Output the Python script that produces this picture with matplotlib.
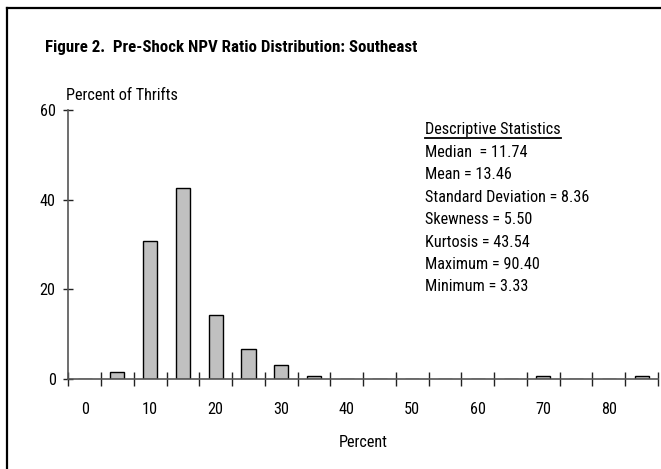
import matplotlib
matplotlib.use("Agg")
import matplotlib.pyplot as plt
from matplotlib.lines import Line2D

plt.rcParams['font.family'] = ['Roboto Condensed', 'DejaVu Sans']

# histogram bins (lower edge of each 5-point bin) and share of thrifts
bins = [0, 5, 10, 15, 20, 25, 30, 35, 40, 45, 50, 55, 60, 65, 70, 75, 80, 85]
pct = [0, 1.5, 30.7, 42.5, 14.3, 6.6, 3.1, 0.7, 0, 0, 0, 0, 0, 0, 0.7, 0, 0, 0.7]
tick_labels = ['0', '10', '20', '30', '40', '50', '60', '70', '80']

stats_lines = ['Median  = 11.74', 'Mean = 13.46', 'Standard Deviation = 8.36',
               'Skewness = 5.50', 'Kurtosis = 43.54', 'Maximum = 90.40', 'Minimum = 3.33']

W, H = 661, 469
FS = 11.7
fig = plt.figure(figsize=(W / 100, H / 100), dpi=100)
ax = fig.add_axes([68.3 / W, 1 - 378.7 / H, (658 - 68.3) / W, (378.7 - 110) / H])

x = list(range(len(bins)))
ax.bar(x, pct, width=0.43, color='#c0c0c0', edgecolor='black', linewidth=1.0)

ax.set_xlim(-0.5, len(bins) - 0.5)
ax.set_ylim(0, 60)

# spines: only left and bottom
for s in ['top', 'right']:
    ax.spines[s].set_visible(False)
ax.spines['left'].set_color('#555555')
ax.spines['bottom'].set_color('#555555')
ax.spines['left'].set_linewidth(1.2)
ax.spines['bottom'].set_linewidth(1.2)

# x ticks at bin boundaries, labels at every other bin center
ax.set_xticks([i - 0.5 for i in range(len(bins) + 1)])
ax.set_xticklabels([])
ax.tick_params(axis='x', which='major', direction='inout', length=9.6, width=1.0, color='#222222')
ax.set_xticks(list(range(0, 17, 2)), minor=True)
ax.set_xticklabels(tick_labels, minor=True)
ax.tick_params(axis='x', which='minor', length=0, pad=17, labelsize=FS)

ax.set_yticks([0, 20, 40, 60])
ax.set_yticklabels(['0', '20', '40', '60'])
ax.tick_params(axis='y', direction='inout', length=7.2, width=1.0, color='#222222', pad=5.5, labelsize=FS)

ax.set_xlabel('Percent', fontsize=FS, labelpad=12.5)

fig.text(45 / W, 1 - 51.7 / H, 'Figure 2.  Pre-Shock NPV Ratio Distribution: Southeast',
         fontsize=12.2, fontweight='bold', va='baseline', ha='left')
fig.text(66 / W, 1 - 100 / H, 'Percent of Thrifts', fontsize=FS, va='baseline', ha='left')

# descriptive statistics text
tx = 425 / W
fig.text(tx, 1 - 134 / H, 'Descriptive Statistics', fontsize=FS, va='baseline', ha='left')
fig.add_artist(Line2D([tx, 561 / W], [1 - 138.5 / H, 1 - 138.5 / H], color='black', linewidth=1.3))
for i, line in enumerate(stats_lines):
    fig.text(tx, 1 - (157 + i * 22.4) / H, line, fontsize=FS, va='baseline', ha='left')

# outer frame (left and top edges visible)
fig.add_artist(Line2D([7 / W, 7 / W], [0, 1 - 8 / H], color='black', linewidth=1.6))
fig.add_artist(Line2D([7 / W, 1], [1 - 8 / H, 1 - 8 / H], color='black', linewidth=1.6))

fig.savefig('out.png', dpi=100)
